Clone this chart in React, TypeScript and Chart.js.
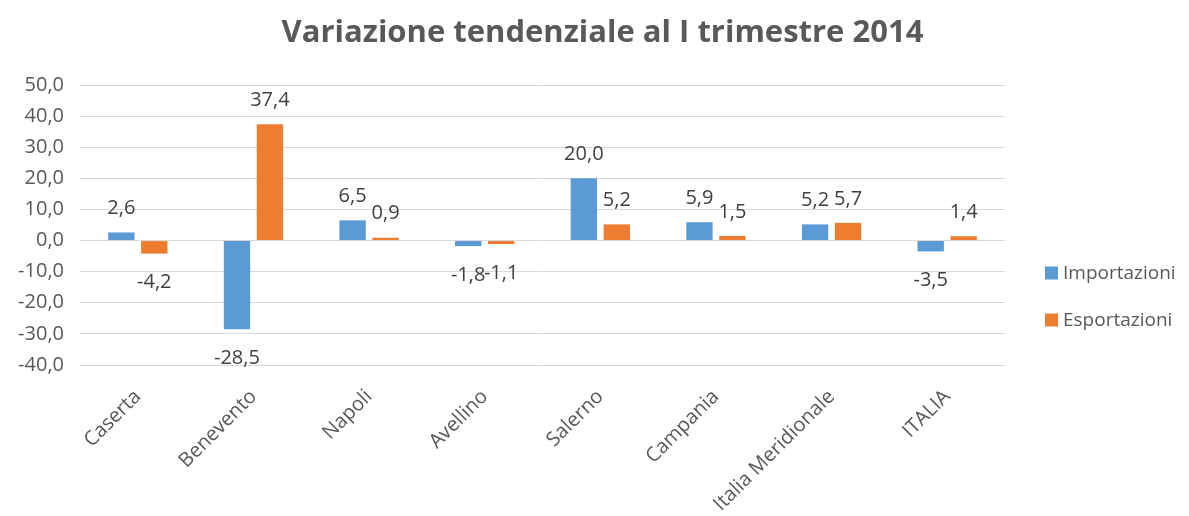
import React, { useEffect, useRef } from "react";
import { Chart, registerables } from "chart.js";

Chart.register(...registerables);

const categories = ["Caserta", "Benevento", "Napoli", "Avellino", "Salerno", "Campania", "Italia Meridionale", "ITALIA"];
const importazioni = [2.6, -28.5, 6.5, -1.8, 20.0, 5.9, 5.2, -3.5];
const esportazioni = [-4.2, 37.4, 0.9, -1.1, 5.2, 1.5, 5.7, 1.4];
const seriesNames = ["Importazioni", "Esportazioni"];
const seriesColors = ["#5b9bd5", "#ed7d31"];
const titleText = "Variazione tendenziale al I trimestre 2014";

const FONT = "'Open Sans', 'DejaVu Sans', sans-serif";
const fmt = (v: number) => v.toFixed(1).replace(".", ",");

const dataLabels = {
  id: "dataLabels",
  afterDatasetsDraw(chart: any) {
    const ctx = chart.ctx;
    ctx.save();
    ctx.font = `20px ${FONT}`;
    ctx.fillStyle = "#404040";
    ctx.textAlign = "center";
    ctx.textBaseline = "middle";
    chart.data.datasets.forEach((ds: any, di: number) => {
      const meta = chart.getDatasetMeta(di);
      meta.data.forEach((el: any, i: number) => {
        const v = ds.data[i];
        const y = v >= 0 ? el.y - 24 : el.y + 29;
        ctx.fillText(fmt(v), el.x, y);
      });
    });
    ctx.restore();
  },
};

const sideLegendAndTitle = {
  id: "sideLegendAndTitle",
  afterDraw(chart: any) {
    const ctx = chart.ctx;
    const area = chart.chartArea;
    ctx.save();
    // title, centred on the whole canvas
    ctx.font = `bold 31px ${FONT}`;
    ctx.fillStyle = "#595959";
    ctx.textAlign = "center";
    ctx.textBaseline = "middle";
    ctx.fillText(titleText, chart.width / 2 + 8, 33);
    // legend
    ctx.font = `19px ${FONT}`;
    ctx.textAlign = "left";
    const x0 = area.right + 40;
    const yc = (area.top + area.bottom) / 2 + 72;
    const gap = 47;
    chart.data.datasets.forEach((ds: any, i: number) => {
      const y = yc - gap / 2 + i * gap;
      ctx.fillStyle = ds.backgroundColor;
      ctx.fillRect(x0, y - 7, 13, 13);
      ctx.fillStyle = "#595959";
      ctx.fillText(ds.label, x0 + 18, y);
    });
    ctx.restore();
  },
};

export default function App() {
  const ref = useRef<HTMLCanvasElement>(null);
  useEffect(() => {
    if (!ref.current) return;
    const chart = new Chart(ref.current, {
      type: "bar",
      data: {
        labels: categories,
        datasets: [
          { label: seriesNames[0], data: importazioni, backgroundColor: seriesColors[0], categoryPercentage: 0.57, barPercentage: 0.8 },
          { label: seriesNames[1], data: esportazioni, backgroundColor: seriesColors[1], categoryPercentage: 0.57, barPercentage: 0.8 },
        ],
      },
      options: {
        animation: false,
        responsive: false,
        maintainAspectRatio: false,
        layout: { padding: { left: 0, right: 184, top: 85, bottom: 0 } },
        plugins: {
          title: { display: false },
          legend: { display: false },
          tooltip: { enabled: false },
        },
        scales: {
          x: {
            grid: { display: false },
            border: { display: false },
            ticks: {
              color: "#595959",
              font: { family: FONT, size: 20 },
              maxRotation: 45,
              minRotation: 45,
              autoSkip: false,
              padding: 12,
            },
            afterFit: (s: any) => { s.height = 151; },
          },
          y: {
            min: -40,
            max: 50,
            grid: { color: "#d9d9d9", drawTicks: false },
            border: { display: false },
            ticks: {
              stepSize: 10,
              color: "#595959",
              font: { family: FONT, size: 20 },
              padding: 16,
              callback: (v: any) => fmt(Number(v)),
            },
            afterFit: (s: any) => { s.width = 80; },
          },
        },
      },
      plugins: [dataLabels, sideLegendAndTitle],
    });
    return () => chart.destroy();
  }, []);
  return (
    <div style={{ position: "fixed", left: 0, top: 0, width: 1189, height: 516, background: "#fff" }}>
      <canvas ref={ref} width={1189} height={516} style={{ width: 1189, height: 516 }} />
    </div>
  );
}
